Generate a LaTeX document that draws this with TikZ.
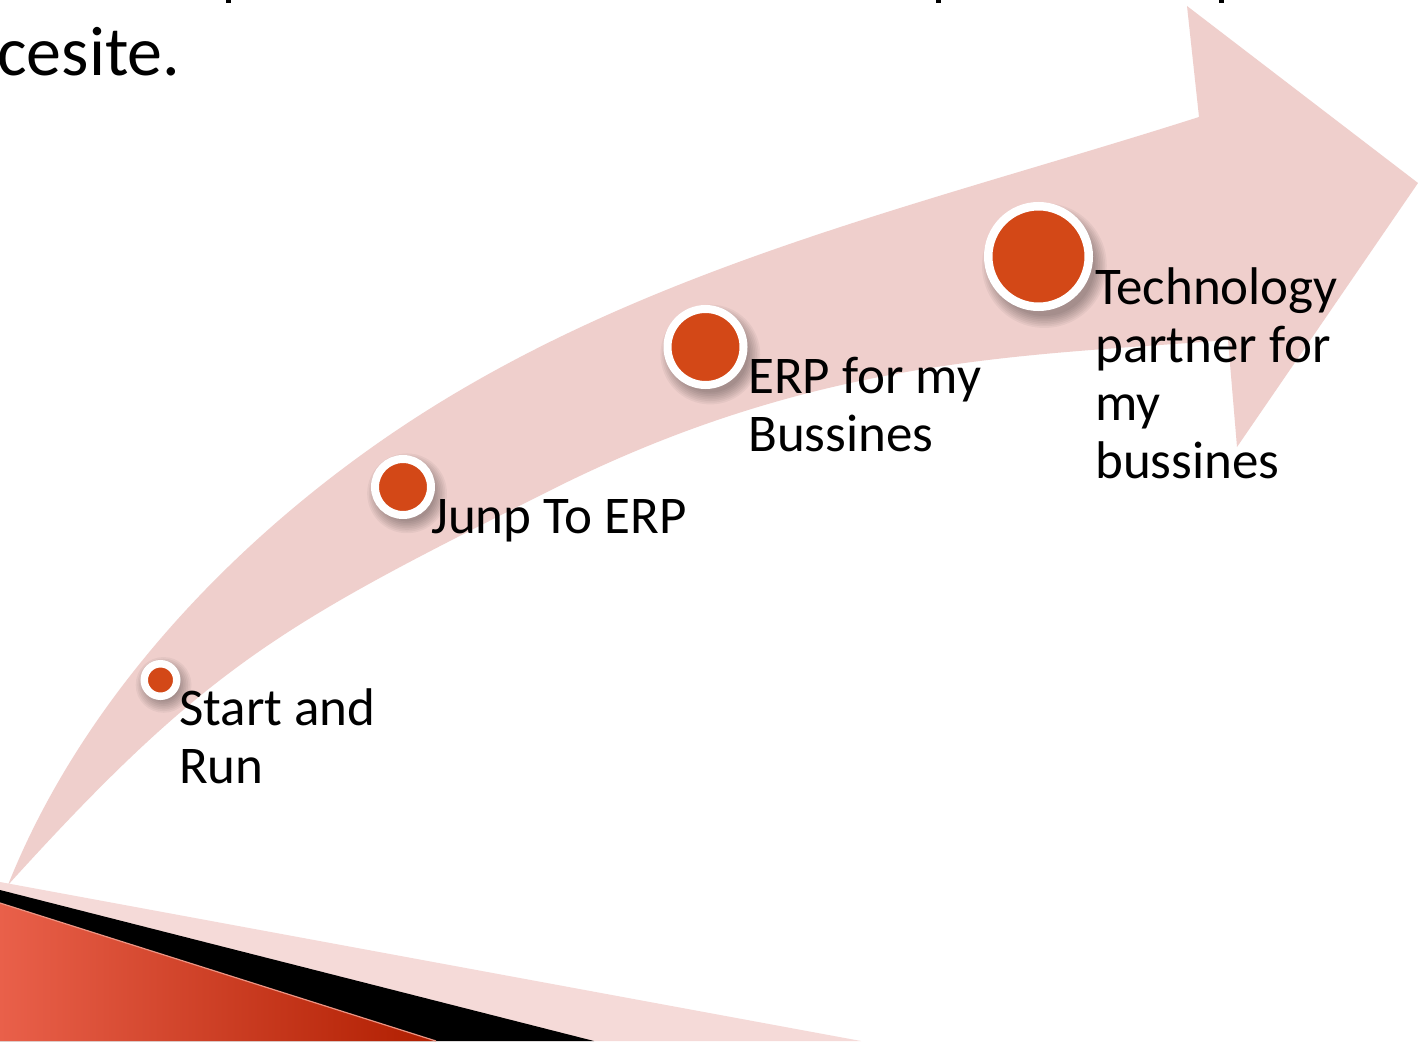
\documentclass[tikz,border=0pt]{standalone}
\usepackage{fontspec}
\setmainfont{Carlito}
\definecolor{arrowpink}{HTML}{EFCFCC}
\definecolor{stripepink}{HTML}{F5DAD8}
\definecolor{dotred}{HTML}{D34817}
\definecolor{redL}{HTML}{E9604A}
\definecolor{redR}{HTML}{B01E00}
\definecolor{redEdge}{HTML}{EC9483}
\begin{document}
\begin{tikzpicture}[x=1pt,y=-1pt,
  erpdot/.style={circle, draw=white, fill=dotred, inner sep=0pt},
  lbl/.style={anchor=base west, inner sep=0pt, align=left, text=black,
    font={\fontsize{53pt}{58pt}\selectfont}},
  toptext/.style={anchor=base west, inner sep=0pt, text=black,
    font={\fontsize{70pt}{84pt}\selectfont}}]
\useasboundingbox (0,0) rectangle (1418,1041);
\fill[white] (0,0) rectangle (1418,1041);

% text of the slide above the diagram (only the descender tips of the line above show)
\fill[black] (226,0) rectangle (231,3.5);
\fill[black] (936,0) rectangle (941,3.5);
\fill[black] (1219,0) rectangle (1224,3.5);
\node[toptext] (cesite) at (-3,75) {cesite.};

% curved arrow
\fill[arrowpink] (8,885) .. controls (82,699) and (234,539) .. (400,428)
  .. controls (641,267) and (923,205) .. (1199,117)
  -- (1187,6) -- (1418,183) -- (1237,447) -- (1228,340)
  .. controls (1029,356) and (821,355) .. (553,489)
  .. controls (285,623) and (209,663) .. (8,885) -- cycle;

% bottom-left decoration
\fill[stripepink] (0,882) -- (861,1041) -- (0,1041) -- cycle;
\fill[black] (0,890) -- (594,1041) -- (0,1041) -- cycle;
\shade[left color=redL, right color=redR] (0,903) -- (436,1041) -- (0,1041) -- cycle;
\draw[redEdge, line width=1.2pt] (0,903) -- (436,1041);

% soft shadows of the dots
\foreach \cx/\cy/\ro in {160.5/680/20, 403/487/32, 705.5/347/42, 1038.5/256.5/54.5}{
  \foreach \k in {0,...,7}{
    \fill[black, opacity=0.045] ({\cx+0.08*\ro+1.5},{\cy+0.12*\ro+2.5}) circle[radius={(\ro-4+1.7*\k)*1pt}];
  }
}

% dots
\node[erpdot, minimum size=32.5pt, line width=7.5pt] (dA) at (160.5,680) {};
\node[erpdot, minimum size=56pt, line width=8pt] (dB) at (403,487) {};
\node[erpdot, minimum size=76pt, line width=8pt] (dC) at (705.5,347) {};
\node[erpdot, minimum size=100.5pt, line width=8.5pt] (dD) at (1038.5,256.5) {};

% labels (base = baseline of the last line)
\node[lbl] (lA) at (179,783) {Start and\\Run};
\node[lbl] (lB) at (431,533) {Junp To ERP};
\node[lbl] (lC) at (748,451) {ERP for my\\Bussines};
\node[lbl] (lD) at (1095,478) {Technology\\partner for\\my\\bussines};
\end{tikzpicture}
\end{document}
